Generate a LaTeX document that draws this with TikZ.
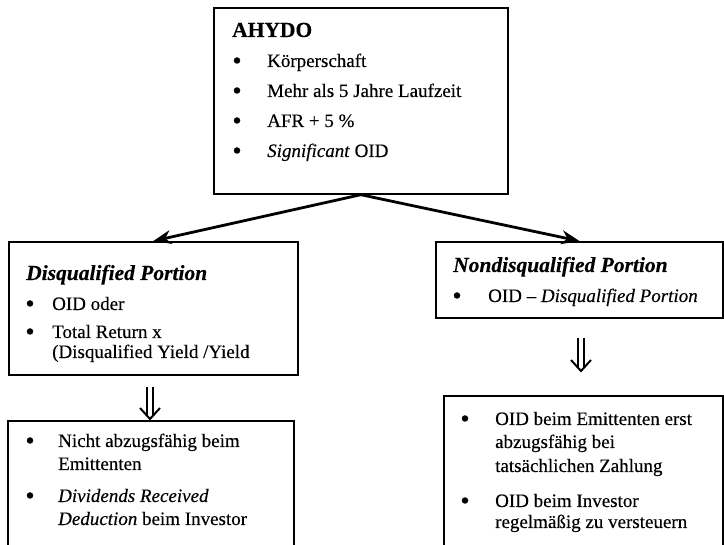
\documentclass[tikz,border=0pt]{standalone}
\usepackage{fontspec}
\setmainfont{Liberation Serif}[FakeBold=0.3]
\usetikzlibrary{arrows.meta,calc}
\newcommand\dblarrow[2]{%
 \draw[dbl] ($(#1)+(-3,0)$) -- ($(#2)+(-3,-4)$);
 \draw[dbl] ($(#1)+(3,0)$) -- ($(#2)+(3,-4)$);
 \draw[dbl, line join=miter] ($(#2)+(-10,-12)$) -- ($(#2)+(0,-1)$) -- ($(#2)+(10,-12)$);}
\begin{document}
\begin{tikzpicture}[x=1pt,y=-1pt,
 box/.style={draw, line width=1.7pt, anchor=north west, inner sep=0pt},
 body/.style={anchor=base west, inner sep=0pt, font=\fontsize{19}{21}\selectfont},
 head/.style={anchor=base west, inner sep=0pt, font=\fontsize{21.5}{24}\selectfont\bfseries},
 dot/.style={circle, fill, inner sep=0pt, minimum size=6.5pt},
 arr/.style={line width=2.8pt, -{Stealth[length=18pt,width=14pt]}},
 dbl/.style={line width=2pt}]
\useasboundingbox (0,0) rectangle (724,545);
% boxes
\node[box, minimum width=294pt, minimum height=186pt] (top) at (213,7) {};
\node[box, minimum width=289pt, minimum height=133pt] (left) at (8,241) {};
\node[box, minimum width=287pt, minimum height=76pt] (right) at (435,241) {};
\node[box, minimum width=286pt, minimum height=150pt] (lb) at (7,420) {};
\node[box, minimum width=279pt, minimum height=180pt] (rb) at (443,395) {};
% arrows
\draw[arr] (top.south) -- (left.north);
\draw[arr] (top.south) -- (right.north);
\coordinate (dl) at (150,387);
\coordinate (dlt) at (dl |- lb.north);
\dblarrow{dl}{dlt}
\coordinate (dr) at (581,338);
\coordinate (dr2) at (581,372);
\dblarrow{dr}{dr2}
% top text
\node[head] (t0) at (232,37) {AHYDO};
\node[dot] (tb1) at (237,60.5) {};
\node[body] (t1) at (267,67) {Körperschaft};
\node[dot] (tb2) at (237,90.5) {};
\node[body] (t2) at (267,97) {Mehr als 5 Jahre Laufzeit};
\node[dot] (tb3) at (237,120.5) {};
\node[body] (t3) at (267,127) {AFR + 5 \%};
\node[dot] (tb4) at (237,150.5) {};
\node[body] (t4) at (267,157) {\textit{Significant} OID};
% left text
\node[head] (l0) at (26,280) {\itshape Disqualified Portion};
\node[dot] (lb1) at (30,303.5) {};
\node[body] (l1) at (52,310) {OID oder};
\node[dot] (lb2) at (30,331.5) {};
\node[body] (l2) at (52,338) {Total Return x};
\node[body] (l3) at (52,358) {(Disqualified Yield /Yield};
% right text
\node[head] (r0) at (453,272) {\itshape Nondisqualified Portion};
\node[dot] (rb1) at (457,295.5) {};
\node[body] (r1) at (488,302) {OID – \textit{Disqualified Portion}};
% left bottom text
\node[dot] (lbb1) at (30,440.5) {};
\node[body] (lb1t) at (58,447) {Nicht abzugsfähig beim};
\node[body] (lb2t) at (58,470) {Emittenten};
\node[dot] (lbb2) at (30,495.5) {};
\node[body] (lb3t) at (58,502) {\textit{Dividends Received}};
\node[body] (lb4t) at (58,525) {\textit{Deduction} beim Investor};
% right bottom text
\node[dot] (rbb1) at (465,418.5) {};
\node[body] (rb1t) at (495,425) {OID beim Emittenten erst};
\node[body] (rb2t) at (495,448) {abzugsfähig bei};
\node[body] (rb3t) at (495,472) {tatsächlichen Zahlung};
\node[dot] (rbb2) at (465,500.5) {};
\node[body] (rb4t) at (495,507) {OID beim Investor};
\node[body] (rb5t) at (495,528) {regelmäßig zu versteuern};
\end{tikzpicture}
\end{document}
